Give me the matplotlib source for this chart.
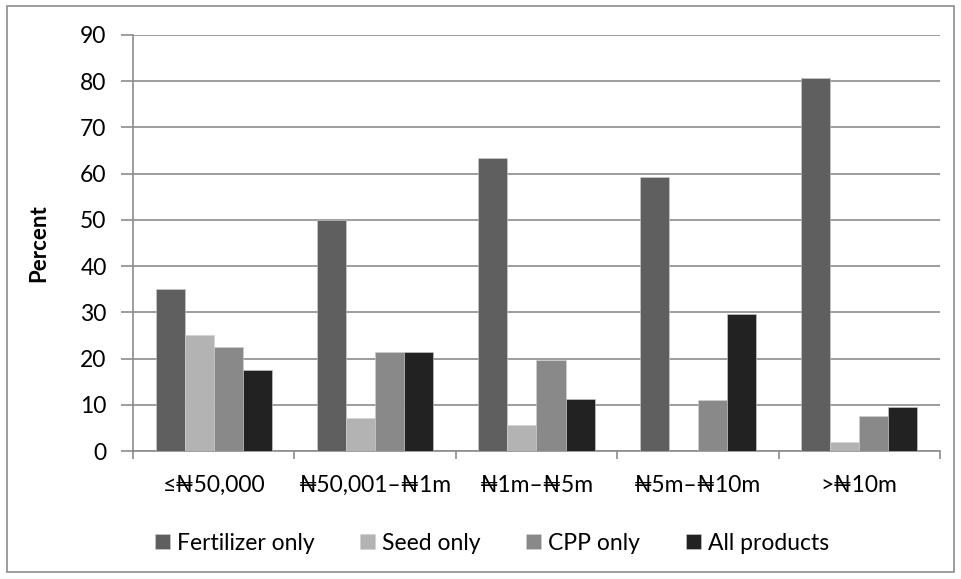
import matplotlib
matplotlib.use("Agg")
import matplotlib.pyplot as plt
import numpy as np
from matplotlib.patches import Rectangle

plt.rcParams['font.family'] = ['Lato', 'DejaVu Sans']

categories = ["≤₦50,000", "₦50,001–₦1m", "₦1m–₦5m", "₦5m–₦10m", ">₦10m"]
series_names = ["Fertilizer only", "Seed only", "CPP only", "All products"]
fertilizer = [35.0, 50.0, 63.3, 59.2, 80.7]
seed = [25.0, 7.1, 5.6, 0.0, 1.9]
cpp = [22.5, 21.4, 19.7, 11.1, 7.6]
all_products = [17.5, 21.4, 11.2, 29.6, 9.6]
colors = ["#5f5f5f", "#b3b3b3", "#898989", "#222222"]
yticks = [0, 10, 20, 30, 40, 50, 60, 70, 80, 90]

fig = plt.figure(figsize=(9.61, 5.79), dpi=100)
fig.patches.append(Rectangle((7 / 961, 1 - 572 / 579), 947 / 961, 566 / 579,
                             transform=fig.transFigure, fill=False,
                             edgecolor="#8c8c8c", linewidth=1.2))
ax = fig.add_axes([133 / 961, 1 - 451 / 579, (940 - 133) / 961, (451 - 35) / 579])

x = np.arange(len(categories))
width = 0.18
data = [fertilizer, seed, cpp, all_products]
bars = []
for i, (vals, c) in enumerate(zip(data, colors)):
    b = ax.bar(x + (i - 1.5) * width, vals, width, color=c, edgecolor="#d0d0d0",
               linewidth=0.4, zorder=3, label=series_names[i])
    bars.append(b)

ax.set_xlim(-0.5, len(categories) - 0.5)
ax.set_ylim(0, 90)
ax.set_yticks(yticks)
ax.yaxis.grid(True, color="#8c8c8c", linewidth=1.2, zorder=0)
ax.set_axisbelow(True)

ax.set_xticks(x)
ax.set_xticklabels(categories, fontsize=16.5)
ax.set_xticks(np.arange(-0.5, len(categories)), minor=True)
ax.tick_params(axis='x', which='major', length=0, pad=17)
ax.tick_params(axis='x', which='minor', length=6, color="#8c8c8c", width=1.2)
ax.tick_params(axis='y', length=9, color="#8c8c8c", width=1.2, labelsize=16.5, pad=10)

for side in ["top", "right"]:
    ax.spines[side].set_visible(False)
for side in ["left", "bottom"]:
    ax.spines[side].set_color("#8c8c8c")
    ax.spines[side].set_linewidth(1.2)

ax.set_ylabel("Percent", fontsize=16, fontweight="bold", labelpad=22)

leg = fig.legend(handles=bars, labels=series_names, loc="center",
                 bbox_to_anchor=(492 / 961, 1 - 543 / 579), ncol=4, frameon=False,
                 fontsize=16.5, handlelength=0.65, handleheight=0.65, handletextpad=0.3,
                 columnspacing=2.0)

fig.savefig("out.png", dpi=100)
